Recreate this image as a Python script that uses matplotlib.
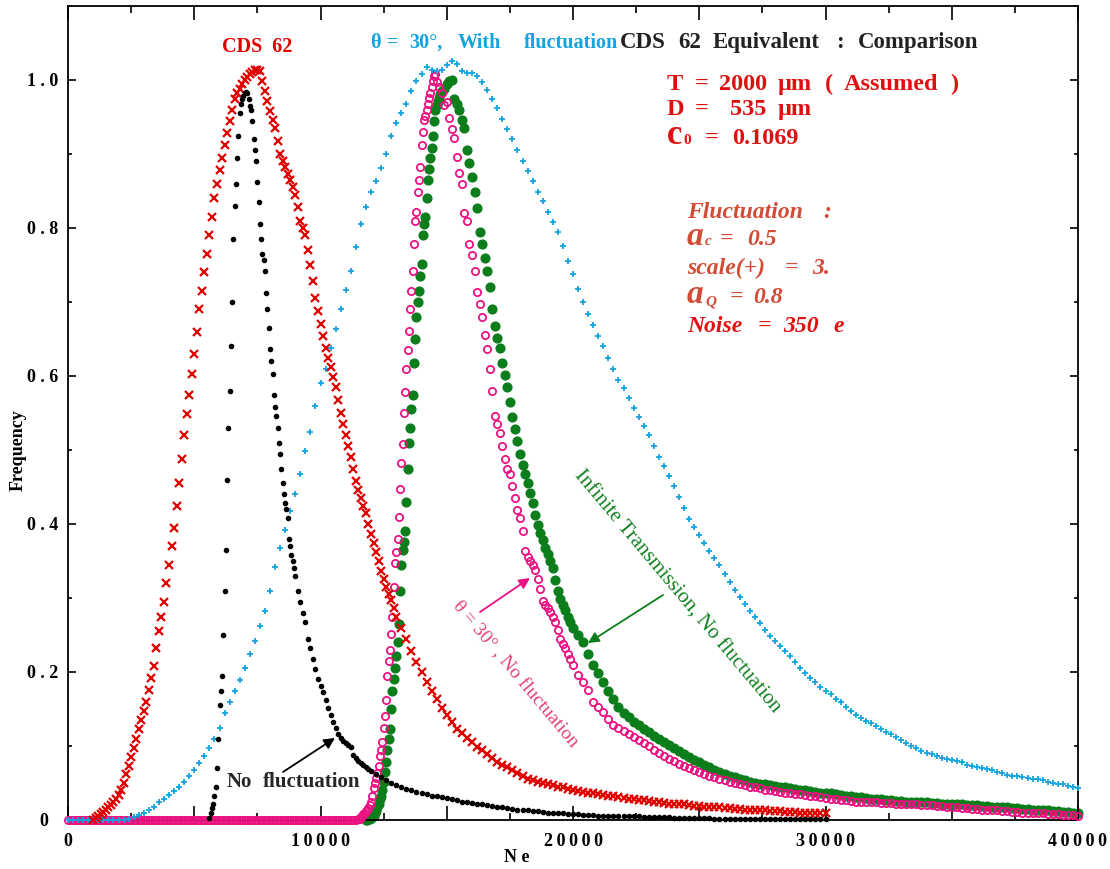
import numpy as np
import matplotlib
matplotlib.use("Agg")
import matplotlib.pyplot as plt
from matplotlib.ticker import MultipleLocator, FuncFormatter

W, H = 1110, 869
plt.rcParams["font.family"] = ["Liberation Serif", "DejaVu Serif"]

# ---- data ----
# CDS 62 measurement
red_x = np.concatenate([np.arange(1000, 13000, 100), np.arange(13000, 30001, 200)])
red_y = [
    0.000, 0.003, 0.005, 0.008, 0.011, 0.014, 0.017, 0.020, 0.024, 0.029,
    0.034, 0.040, 0.050, 0.062, 0.073, 0.085, 0.097, 0.110, 0.123, 0.135,
    0.147, 0.160, 0.176, 0.192, 0.208, 0.232, 0.255, 0.275, 0.295, 0.320,
    0.345, 0.370, 0.395, 0.425, 0.455, 0.488, 0.520, 0.548, 0.575, 0.603,
    0.630, 0.660, 0.690, 0.715, 0.740, 0.765, 0.790, 0.815, 0.840, 0.860,
    0.878, 0.895, 0.912, 0.928, 0.945, 0.960, 0.975, 0.982, 0.988, 0.994,
    1.000, 1.004, 1.008, 1.011, 1.013, 1.014, 1.012, 0.998, 0.985, 0.972,
    0.958, 0.946, 0.935, 0.918, 0.900, 0.890, 0.882, 0.873, 0.865, 0.855,
    0.845, 0.828, 0.810, 0.800, 0.790, 0.770, 0.750, 0.728, 0.705, 0.688,
    0.670, 0.654, 0.638, 0.625, 0.612, 0.598, 0.585, 0.568, 0.550, 0.535,
    0.520, 0.505, 0.490, 0.474, 0.458, 0.446, 0.435, 0.425, 0.415, 0.400,
    0.386, 0.374, 0.362, 0.350, 0.337, 0.326, 0.315, 0.306, 0.297, 0.286,
    # step 200 from 13000
    0.275, 0.260, 0.245, 0.229, 0.214, 0.200, 0.187, 0.175, 0.163, 0.152,
    0.142, 0.132, 0.123, 0.117, 0.111, 0.105, 0.099, 0.094, 0.089, 0.084,
    0.079, 0.075, 0.071, 0.067, 0.063, 0.059, 0.056, 0.054, 0.052, 0.050,
    0.048, 0.047, 0.045, 0.044, 0.042, 0.041, 0.039, 0.038, 0.037, 0.036,
    0.035, 0.034, 0.033, 0.032, 0.031, 0.030, 0.029, 0.028, 0.027, 0.027,
    0.026, 0.025, 0.024, 0.023, 0.022, 0.022, 0.021, 0.021, 0.020, 0.019,
    0.019, 0.018, 0.018, 0.017, 0.017, 0.016, 0.016, 0.015, 0.015, 0.014,
    0.014, 0.014, 0.013, 0.013, 0.012, 0.012, 0.012, 0.011, 0.011, 0.011,
    0.010, 0.010, 0.010, 0.009, 0.009, 0.009,
]

# No fluctuation
black_x = np.concatenate([np.arange(5600, 9001, 50), np.arange(9100, 12001, 100),
                          np.arange(12200, 30001, 200)])
black_y = [
    0.003, 0.010, 0.016, 0.022, 0.032, 0.045, 0.070, 0.110, 0.155, 0.175,
    0.194, 0.250, 0.310, 0.365, 0.460, 0.530, 0.580, 0.640, 0.700, 0.785,
    0.830, 0.860, 0.895, 0.925, 0.955, 0.968, 0.975, 0.978, 0.982, 0.984,
    0.982, 0.975, 0.965, 0.960, 0.945, 0.920, 0.906, 0.890, 0.862, 0.835,
    0.805, 0.785, 0.765, 0.757, 0.742, 0.712, 0.690, 0.665, 0.636, 0.620,
    0.603, 0.575, 0.558, 0.546, 0.530, 0.510, 0.495, 0.475, 0.455, 0.440,
    0.428, 0.420, 0.408, 0.380, 0.370, 0.358, 0.350, 0.340, 0.330,
    # step 100 from 9100
    0.310, 0.294, 0.280, 0.267, 0.245, 0.232, 0.217, 0.204, 0.190, 0.181,
    0.173, 0.162, 0.151, 0.142, 0.132, 0.124, 0.116, 0.111, 0.107, 0.104,
    0.102, 0.099, 0.088, 0.084, 0.080, 0.077, 0.075, 0.072, 0.069, 0.066,
    # step 200 from 12200
    0.062, 0.058, 0.054, 0.050, 0.047, 0.044, 0.042, 0.040, 0.038, 0.037,
    0.035, 0.033, 0.032, 0.031, 0.030, 0.028, 0.027, 0.025, 0.024, 0.023,
    0.022, 0.021, 0.020, 0.019, 0.018, 0.017, 0.016, 0.015, 0.014, 0.014,
    0.013, 0.012, 0.012, 0.011, 0.010, 0.010, 0.009, 0.009, 0.008, 0.008,
    0.008, 0.007, 0.007, 0.007, 0.006, 0.006, 0.006, 0.006, 0.005, 0.005,
    0.005, 0.005, 0.005, 0.004, 0.004, 0.004, 0.004, 0.004, 0.004, 0.003,
    0.003, 0.003, 0.003, 0.003, 0.003, 0.003, 0.003, 0.002, 0.002, 0.002,
    0.002, 0.002, 0.002, 0.002, 0.002, 0.002, 0.002, 0.002, 0.001, 0.001,
    0.001, 0.001, 0.001, 0.001, 0.001, 0.001, 0.001, 0.001, 0.001, 0.001,
]

# theta = 30 deg, with fluctuation
blue_x = np.arange(0, 40001, 200)
blue_y = [
    0.000, 0.000, 0.000, 0.000, 0.000, 0.000, 0.000, 0.000, 0.000, 0.000,
    0.000, 0.000, 0.002, 0.004, 0.007, 0.010, 0.013, 0.018, 0.024, 0.029,
    0.034, 0.039, 0.045, 0.052, 0.060, 0.068, 0.077, 0.087, 0.097, 0.109,
    0.125, 0.145, 0.160, 0.175, 0.189, 0.205, 0.224, 0.242, 0.262, 0.282,
    0.310, 0.342, 0.367, 0.392, 0.418, 0.440, 0.468, 0.498, 0.525, 0.560,
    0.590, 0.610, 0.638, 0.664, 0.690, 0.716, 0.742, 0.775, 0.805, 0.828,
    0.848, 0.864, 0.881, 0.900, 0.925, 0.942, 0.955, 0.968, 0.985, 0.998,
    1.008, 1.018, 1.013, 1.012, 1.014, 1.020, 1.026, 1.022, 1.012, 1.010,
    1.009, 1.005, 0.997, 0.987, 0.974, 0.962, 0.947, 0.934, 0.920, 0.905,
    0.890, 0.877, 0.863, 0.849, 0.836, 0.821, 0.808, 0.794, 0.776, 0.756,
    0.738, 0.718, 0.700, 0.684, 0.669, 0.654, 0.640, 0.625, 0.610, 0.595,
    0.584, 0.570, 0.557, 0.545, 0.533, 0.520, 0.505, 0.491, 0.478, 0.465,
    0.452, 0.437, 0.421, 0.407, 0.396, 0.385, 0.374, 0.364, 0.354, 0.344,
    0.333, 0.322, 0.311, 0.301, 0.292, 0.283, 0.274, 0.266, 0.257, 0.249,
    0.242, 0.235, 0.228, 0.221, 0.213, 0.205, 0.198, 0.192, 0.186, 0.180,
    0.175, 0.170, 0.164, 0.159, 0.153, 0.147, 0.142, 0.138, 0.134, 0.131,
    0.127, 0.123, 0.119, 0.116, 0.112, 0.108, 0.104, 0.100, 0.097, 0.093,
    0.091, 0.089, 0.087, 0.084, 0.083, 0.081, 0.080, 0.078, 0.075, 0.073,
    0.072, 0.070, 0.069, 0.067, 0.065, 0.063, 0.061, 0.060, 0.059, 0.058,
    0.057, 0.056, 0.055, 0.054, 0.052, 0.050, 0.049, 0.048, 0.046, 0.044,
    0.043,
]

# Infinite transmission, no fluctuation
green_x = np.concatenate([np.arange(11800, 14801, 50), np.arange(14900, 20001, 100),
                          np.arange(20200, 40001, 200)])
green_y = [
    0.000, 0.000, 0.001, 0.002, 0.003, 0.004, 0.006, 0.009, 0.012, 0.017,
    0.022, 0.028, 0.033, 0.040, 0.052, 0.065, 0.078, 0.094, 0.110, 0.123,
    0.150, 0.175, 0.190, 0.205, 0.222, 0.240, 0.265, 0.310, 0.345, 0.365,
    0.376, 0.390, 0.430, 0.475, 0.510, 0.530, 0.555, 0.575, 0.617, 0.650,
    0.680, 0.700, 0.715, 0.735, 0.752, 0.790, 0.805, 0.815, 0.840, 0.865,
    0.880, 0.895, 0.908, 0.925, 0.945, 0.960, 0.966, 0.970, 0.976, 0.981,
    0.985,
    # step 100 from 14900
    0.988, 0.995, 0.998, 1.000, 0.975, 0.968, 0.960, 0.946, 0.935, 0.905,
    0.888, 0.869, 0.848, 0.827, 0.795, 0.778, 0.760, 0.742, 0.720, 0.690,
    0.668, 0.652, 0.638, 0.618, 0.602, 0.585, 0.565, 0.545, 0.528, 0.512,
    0.495, 0.480, 0.468, 0.456, 0.442, 0.428, 0.412, 0.398, 0.388, 0.378,
    0.368, 0.359, 0.350, 0.340, 0.325, 0.310, 0.298, 0.291, 0.284, 0.275,
    0.267, 0.260,
    # step 200 from 20200
    0.250, 0.240, 0.225, 0.210, 0.198, 0.187, 0.175, 0.164, 0.153, 0.145,
    0.139, 0.133, 0.128, 0.123, 0.119, 0.114, 0.110, 0.105, 0.101, 0.097,
    0.093, 0.089, 0.085, 0.081, 0.078, 0.075, 0.072, 0.068, 0.065, 0.062,
    0.060, 0.058, 0.056, 0.054, 0.052, 0.050, 0.049, 0.048, 0.047, 0.046,
    0.045, 0.044, 0.043, 0.042, 0.041, 0.040, 0.039, 0.038, 0.037, 0.037,
    0.036, 0.035, 0.034, 0.033, 0.032, 0.031, 0.031, 0.030, 0.029, 0.029,
    0.028, 0.027, 0.027, 0.026, 0.026, 0.025, 0.025, 0.024, 0.024, 0.024,
    0.023, 0.023, 0.022, 0.022, 0.022, 0.021, 0.021, 0.020, 0.020, 0.020,
    0.019, 0.019, 0.018, 0.018, 0.017, 0.017, 0.016, 0.016, 0.015, 0.015,
    0.014, 0.014, 0.013, 0.013, 0.012, 0.012, 0.011, 0.011, 0.010, 0.010,
]

# theta = 30 deg, no fluctuation
pink_x = np.concatenate([np.arange(0, 11401, 100), np.arange(11500, 14601, 50),
                         np.arange(14700, 20001, 100), np.arange(20200, 40001, 200)])
pink_base = [0.0] * 115   # flat at zero up to 11400
pink_y = pink_base + [
    0.001, 0.002, 0.004, 0.006, 0.008, 0.010, 0.012, 0.014, 0.016, 0.020,
    0.025, 0.032, 0.043, 0.050, 0.057, 0.064, 0.073, 0.086, 0.094, 0.106,
    0.124, 0.140, 0.162, 0.195, 0.215, 0.230, 0.252, 0.275, 0.315, 0.347,
    0.362, 0.380, 0.410, 0.447, 0.482, 0.508, 0.550, 0.578, 0.610, 0.635,
    0.661, 0.690, 0.715, 0.742, 0.779, 0.810, 0.822, 0.848, 0.865, 0.882,
    0.912, 0.930, 0.946, 0.952, 0.960, 0.968, 0.976, 0.983, 0.990, 0.998,
    1.006, 1.008, 0.997,
    # step 100 from 14700
    0.990, 0.982, 0.966, 0.970, 0.948, 0.934, 0.922, 0.896, 0.875, 0.860,
    0.820, 0.810, 0.778, 0.763, 0.742, 0.713, 0.697, 0.680, 0.655, 0.637,
    0.610, 0.580, 0.546, 0.535, 0.523, 0.505, 0.488, 0.474, 0.467, 0.452,
    0.435, 0.419, 0.408, 0.390, 0.364, 0.356, 0.350, 0.345, 0.338, 0.326,
    0.312, 0.296, 0.290, 0.286, 0.281, 0.275, 0.268, 0.257, 0.244, 0.238,
    0.232, 0.224, 0.217, 0.210,
    # step 200 from 20200
    0.196, 0.186, 0.176, 0.160, 0.153, 0.146, 0.136, 0.129, 0.124, 0.120,
    0.116, 0.112, 0.108, 0.104, 0.100, 0.095, 0.091, 0.087, 0.083, 0.080,
    0.076, 0.073, 0.070, 0.068, 0.065, 0.062, 0.060, 0.058, 0.056, 0.054,
    0.052, 0.050, 0.049, 0.047, 0.045, 0.044, 0.043, 0.041, 0.040, 0.039,
    0.038, 0.037, 0.036, 0.035, 0.035, 0.034, 0.033, 0.032, 0.031, 0.030,
    0.029, 0.028, 0.027, 0.027, 0.026, 0.025, 0.025, 0.024, 0.024, 0.024,
    0.023, 0.023, 0.023, 0.022, 0.022, 0.022, 0.021, 0.021, 0.020, 0.020,
    0.020, 0.019, 0.019, 0.018, 0.018, 0.017, 0.016, 0.016, 0.015, 0.015,
    0.014, 0.014, 0.013, 0.013, 0.012, 0.012, 0.011, 0.011, 0.010, 0.010,
    0.010, 0.009, 0.009, 0.008, 0.008, 0.008, 0.007, 0.007, 0.007, 0.006,
]

x_labels = {0: "0", 10000: "1\u20090\u20090\u20090\u20090", 20000: "2\u20090\u20090\u20090\u20090",
            30000: "3\u20090\u20090\u20090\u20090", 40000: "4\u20090\u20090\u20090\u20090"}

RED = "#e00000"
BLUE = "#12a4e0"
GREEN = "#0b7d1b"
PINK = "#ea1282"
INFO = "#e01010"
FLUCT = "#d34a35"

# ---- figure ----
fig = plt.figure(figsize=(W / 100, H / 100), dpi=100)
ax = fig.add_axes([68 / W, 49 / H, 1010 / W, 814 / H])

ax.plot(green_x, green_y, "o", ms=6.3, color=GREEN, mec=GREEN, zorder=2, clip_on=False)
ax.plot(pink_x, pink_y, "o", ms=5.2, mfc="none", mec=PINK, mew=1.3, zorder=3, clip_on=False)
ax.plot(blue_x, blue_y, "+", ms=5, mew=1.3, color=BLUE, zorder=4, clip_on=False)
ax.plot(red_x, red_y, "x", ms=6, mew=1.6, color=RED, zorder=5, clip_on=False)
ax.plot(black_x, black_y, "o", ms=3, color="black", zorder=6, clip_on=False)

ax.set_xlim(0, 40000)
ax.set_ylim(0, 1.10)
ax.xaxis.set_major_locator(MultipleLocator(5000))
ax.xaxis.set_minor_locator(MultipleLocator(2500))
ax.yaxis.set_major_locator(MultipleLocator(0.2))
ax.yaxis.set_minor_locator(MultipleLocator(0.1))
ax.xaxis.set_major_formatter(FuncFormatter(lambda v, p: x_labels.get(int(round(v)), "")))
ax.yaxis.set_major_formatter(FuncFormatter(
    lambda v, p: "0  " if abs(v) < 1e-9 else f"{v:.1f}".replace(".", " . ")))
ax.tick_params(which="both", direction="in", top=True, right=True, width=1.2)
ax.tick_params(axis="x", which="major", length=10, pad=9)
ax.tick_params(axis="x", which="minor", length=5)
ax.tick_params(axis="y", which="major", length=6, pad=7)
ax.tick_params(axis="y", which="minor", length=3)
for lab in ax.get_xticklabels() + ax.get_yticklabels():
    lab.set_fontweight("bold")
    lab.set_fontsize(13)
for sp in ax.spines.values():
    sp.set_linewidth(1.3)


def put(x, y, s, size, color, weight="bold", style="normal"):
    fig.text(x / W, 1 - y / H, s, fontsize=size, color=color, fontweight=weight,
             fontstyle=style, ha="left", va="baseline")


def arrow(x0, y0, x1, y1, color):
    ax.annotate("", xy=(x1 / W, 1 - y1 / H), xycoords="figure fraction",
                xytext=(x0 / W, 1 - y0 / H), textcoords="figure fraction",
                arrowprops=dict(arrowstyle="-|>", color=color, lw=1.3,
                                shrinkA=0, shrinkB=0, mutation_scale=16))


# labels above the peaks
put(222, 52, "CDS  62", 14.5, RED)
for x, s in [(370, "θ"), (387, "="), (409, "30°,"), (458, "With"), (524, "fluctuation")]:
    put(x, 48, s, 14.5, BLUE)
for x, s in [(620, "CDS"), (678, "62"), (713, "Equivalent"), (836, ":"), (858, "Comparison")]:
    put(x, 48, s, 16.5, "#222222")

# parameters
for x, s in [(667, "T"), (695, "="), (719, "2000"), (778, "μm"), (825, "("), (844, "Assumed"), (950, ")")]:
    put(x, 90, s, 17.5, INFO)
for x, s in [(667, "D"), (695, "="), (730, "535"), (778, "μm")]:
    put(x, 115, s, 17.5, INFO)
put(667, 144, "c", 25, INFO)
put(683, 144, "0", 11, INFO)
put(705, 144, "=", 17.5, INFO)
put(732, 144, "0.1069", 17.5, INFO)

# fluctuation block
put(687, 218, "Fluctuation", 17, FLUCT, style="italic")
put(823, 218, ":", 17, FLUCT, style="italic")
put(687, 245, "a", 24, FLUCT, style="italic")
put(705, 245, "c", 11, FLUCT, style="italic")
put(720, 245, "=", 17, FLUCT, style="italic")
put(747, 245, "0.5", 17, FLUCT, style="italic")
put(687, 274, "scale(+)", 17, FLUCT, style="italic")
put(785, 274, "=", 17, FLUCT, style="italic")
put(812, 274, "3.", 17, FLUCT, style="italic")
put(687, 303, "a", 24, FLUCT, style="italic")
put(705, 305, "Q", 11, FLUCT, style="italic")
put(730, 303, "=", 17, FLUCT, style="italic")
put(753, 303, "0.8", 17, FLUCT, style="italic")
for x, s in [(687, "Noise"), (758, "="), (783, "350"), (833, "e")]:
    put(x, 332, s, 17, INFO, style="italic")

# curve annotations
put(227, 787, "No", 15, "#262626")
put(263, 787, "fluctuation", 15, "#262626")
arrow(283, 772, 335, 738, "black")

fig.text(515 / W, 1 - 674 / H, "θ = 30° , No fluctuation", fontsize=14, color="#e2417a",
         rotation=-50, ha="center", va="center", rotation_mode="anchor")
arrow(480, 612, 530, 578, PINK)

fig.text(677 / W, 1 - 592 / H, "Infinite Transmission, No fluctuation", fontsize=15,
         color="#10801e", rotation=-50, ha="center", va="center", rotation_mode="anchor")
arrow(663, 595, 588, 643, GREEN)

# axis titles
fig.text(517 / W, 1 - 857 / H, "N e", fontsize=13, fontweight="bold", ha="center", va="center")
fig.text(18 / W, 1 - 450 / H, "Frequency", fontsize=13, fontweight="bold",
         rotation=90, ha="center", va="center")

fig.savefig("out.png", dpi=100)
